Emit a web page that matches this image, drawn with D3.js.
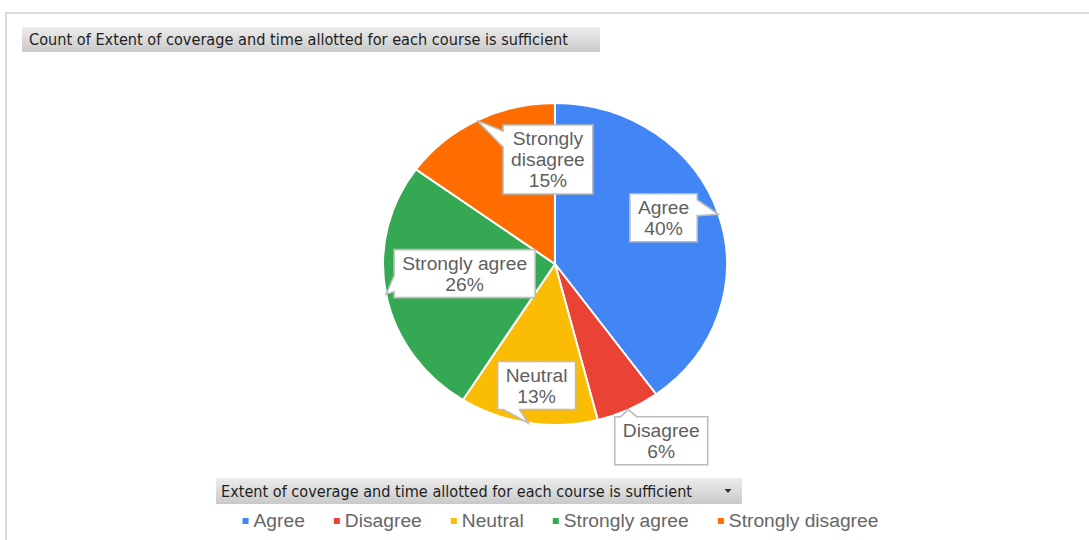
<!DOCTYPE html>
<html><head><meta charset="utf-8">
<script src="https://cdn.jsdelivr.net/npm/d3@7"></script>
<style>body{margin:0;background:#fff} svg{display:block}</style>
</head><body>
<svg id="chart" width="1089" height="540"></svg>
<script>
// ---- data ----
const categories = ["Agree", "Disagree", "Neutral", "Strongly agree", "Strongly disagree"];
const values = [40, 6, 13, 26, 15];
const colors = ["#4285F4", "#EA4335", "#FBBC04", "#34A853", "#FF6D01"];
const chartTitle = "Count of Extent of coverage and time allotted for each course is sufficient";
const fieldName = "Extent of coverage and time allotted for each course is sufficient";

// ---- layout ----
const svg = d3.select("#chart");
const SX = 1.068;              // horizontal stretch of the reference
const cx = 555, cy = 264, R = 161;
const labelFont = "'Liberation Sans', Arial, sans-serif";
const labelColor = "#5f5f5f";
const labelWrap = {"Strongly disagree": true};
const labelOffset = {           // box centre relative to the pointer tip
  "Agree": [-55, 3.5],
  "Disagree": [33, 31],
  "Neutral": [8.5, -37.5],
  "Strongly agree": [78.5, -20.5],
  "Strongly disagree": [71, 39]
};

const data = categories.map((c, i) => ({name: c, value: values[i], color: colors[i]}));
const total = d3.sum(values);

// chart frame
svg.append("path").attr("d", "M6,540 V13 H1089")
  .attr("fill", "none").attr("stroke", "#dadada").attr("stroke-width", 2);

const defs = svg.append("defs");
const grad = defs.append("linearGradient").attr("id", "btn")
  .attr("x1", 0).attr("y1", 0).attr("x2", 0).attr("y2", 1);
grad.append("stop").attr("offset", "0%").attr("stop-color", "#ededed");
grad.append("stop").attr("offset", "100%").attr("stop-color", "#c9c9c9");

function button(x, y, w, h, text, tx, tw, arrow) {
  const g = svg.append("g");
  g.append("rect").attr("x", x).attr("y", y).attr("width", w).attr("height", h)
    .attr("fill", "url(#btn)");
  g.append("text").attr("x", tx).attr("y", y + h / 2 + 5.5)
    .attr("font-family", "'DejaVu Sans Condensed', 'DejaVu Sans', sans-serif")
    .attr("font-size", 15.5).attr("fill", "#1e1e1e")
    .attr("textLength", tw).attr("lengthAdjust", "spacingAndGlyphs")
    .text(text);
  if (arrow) {
    const ax = x + w - 14, ay = y + h / 2;
    g.append("path").attr("d", `M${ax - 3.5},${ay - 2} L${ax + 3.5},${ay - 2} L${ax},${ay + 2} Z`)
      .attr("fill", "#333");
  }
}
button(22, 27, 578, 25, chartTitle, 29, 539, false);
button(216, 478, 526, 26, fieldName, 221, 471, true);

// pie
const pie = d3.pie().sort(null).value(d => d.value);
const arcs = pie(data);
const arc = d3.arc().innerRadius(0).outerRadius(R);
const pg = svg.append("g").attr("transform", `translate(${cx},${cy}) scale(${SX},1)`);
pg.selectAll("path").data(arcs).join("path")
  .attr("d", arc).attr("fill", d => d.data.color)
  .attr("stroke", "#fff").attr("stroke-width", 2)
  .attr("vector-effect", "non-scaling-stroke");

// callout labels
function calloutPath(x0, y0, x1, y1, tx, ty) {
  const ox = tx < x0 ? x0 - tx : (tx > x1 ? tx - x1 : 0);
  const oy = ty < y0 ? y0 - ty : (ty > y1 ? ty - y1 : 0);
  let side = null;
  if (ox > 0 || oy > 0) side = ox >= oy ? (tx < x0 ? "left" : "right") : (ty < y0 ? "top" : "bottom");
  const b0 = 6, b1 = 22;
  const p = [[x0, y0]];
  if (side === "top") {
    if (Math.abs(tx - x0) < Math.abs(tx - x1)) p.push([x0 + b0, y0], [tx, ty], [x0 + b1, y0]);
    else p.push([x1 - b1, y0], [tx, ty], [x1 - b0, y0]);
  }
  p.push([x1, y0]);
  if (side === "right") {
    if (Math.abs(ty - y0) < Math.abs(ty - y1)) p.push([x1, y0 + b0], [tx, ty], [x1, y0 + b1]);
    else p.push([x1, y1 - b1], [tx, ty], [x1, y1 - b0]);
  }
  p.push([x1, y1]);
  if (side === "bottom") {
    if (Math.abs(tx - x1) < Math.abs(tx - x0)) p.push([x1 - b0, y1], [tx, ty], [x1 - b1, y1]);
    else p.push([x0 + b1, y1], [tx, ty], [x0 + b0, y1]);
  }
  p.push([x0, y1]);
  if (side === "left") {
    if (Math.abs(ty - y1) < Math.abs(ty - y0)) p.push([x0, y1 - b0], [tx, ty], [x0, y1 - b1]);
    else p.push([x0, y0 + b1], [tx, ty], [x0, y0 + b0]);
  }
  return "M" + p.map(q => q.join(",")).join("L") + "Z";
}

const lg = svg.append("g");
arcs.forEach(a => {
  const name = a.data.name;
  const pct = Math.round(a.data.value / total * 100) + "%";
  const lines = (labelWrap[name] ? name.split(" ") : [name]).concat([pct]);
  const mid = (a.startAngle + a.endAngle) / 2;
  const tx = cx + SX * R * Math.sin(mid), ty = cy - R * Math.cos(mid);
  const off = labelOffset[name];
  const bcx = tx + off[0], bcy = ty + off[1];
  const g = lg.append("g");
  const path = g.append("path");
  const texts = lines.map(l => g.append("text")
    .attr("font-family", labelFont).attr("font-size", 18).attr("fill", labelColor)
    .attr("text-anchor", "middle").text(l));
  const maxW = d3.max(texts, t => t.node().getComputedTextLength()) * SX;
  const bw = maxW + 16, bh = lines.length * 21 + 6;
  const x0 = bcx - bw / 2, y0 = bcy - bh / 2;
  texts.forEach((t, i) => t.attr("transform", `translate(${bcx},${y0 + 20 + 21 * i}) scale(${SX},1)`));
  path.attr("d", calloutPath(x0, y0, x0 + bw, y0 + bh, tx, ty))
    .attr("fill", "#fff").attr("stroke", "#bcbcbc").attr("stroke-width", 1.6);
});

// legend
const leg = svg.append("g");
const items = data.map(d => {
  const g = leg.append("g");
  g.append("rect").attr("width", 6).attr("height", 6).attr("y", 518).attr("fill", d.color);
  const t = g.append("text").attr("font-family", labelFont).attr("font-size", 18)
    .attr("fill", "#666").text(d.name);
  const w = t.node().getComputedTextLength() * SX;
  return {g, t, w};
});
const gap = 29, mgap = 11;
const totalW = d3.sum(items, d => mgap + d.w) + gap * (items.length - 1);
let lx = 560.5 - totalW / 2;
items.forEach(it => {
  it.g.select("rect").attr("x", lx);
  it.t.attr("transform", `translate(${lx + mgap},527) scale(${SX},1)`);
  lx += mgap + it.w + gap;
});
</script>
</body></html>
